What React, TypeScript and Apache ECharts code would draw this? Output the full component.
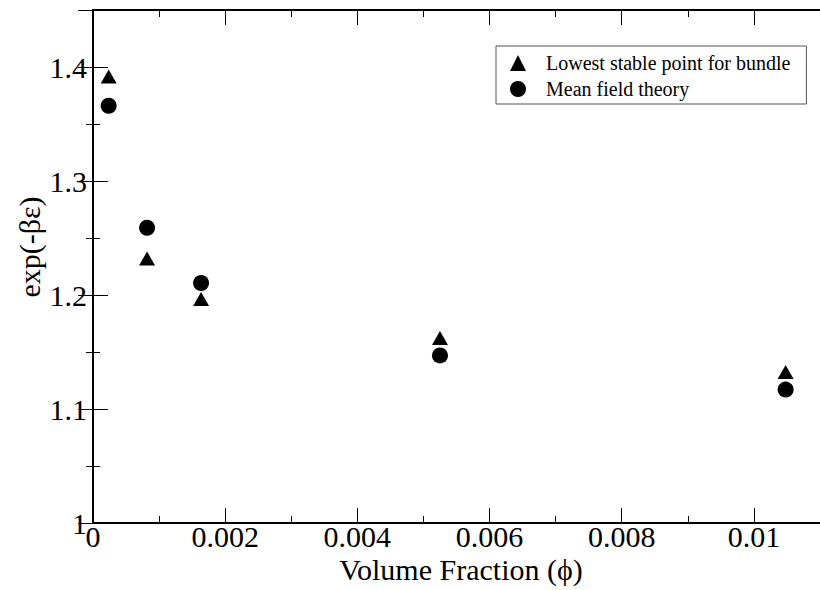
import React, { useEffect, useRef } from "react";
import * as echarts from "echarts";

// ---- data ----
const phi = [0.000237, 0.000818, 0.001635, 0.00525, 0.01048];
const lowestStable = [1.3917, 1.232, 1.1965, 1.1623, 1.1325];
const meanField = [1.366, 1.259, 1.2105, 1.147, 1.117];
const seriesNames = ["Lowest stable point for bundle", "Mean field theory"];
const xTicks = [0, 0.002, 0.004, 0.006, 0.008, 0.01];
const yTicks = [1, 1.1, 1.2, 1.3, 1.4];
const xTitle = "Volume Fraction (\u03d5)";
const yTitle = "exp(-\u03b2\u03b5)";

const FONT = "'Liberation Serif', 'Times New Roman', Times, serif";

const fmt = (v: number, ticks: number[]) => {
  const hit = ticks.find((t) => Math.abs(t - v) < 1e-9);
  return hit === undefined ? "" : String(parseFloat(hit.toFixed(6)));
};

export default function App() {
  const ref = useRef<HTMLDivElement>(null);

  useEffect(() => {
    if (!ref.current) return;
    const chart = echarts.init(ref.current, undefined, { renderer: "svg" });

    const frame = { show: true, lineStyle: { color: "#000", width: 2 } };
    const noLine = { show: false };
    const tick = (len: number) => ({
      show: true,
      inside: true,
      length: len,
      lineStyle: { color: "#000", width: 1 },
    });

    const xBase = { type: "value" as const, min: 0, max: 0.011, gridIndex: 0, splitLine: { show: false } };
    const yBase = { type: "value" as const, min: 1, max: 1.45, gridIndex: 0, splitLine: { show: false } };

    chart.setOption({
      animation: false,
      backgroundColor: "#fff",
      textStyle: { fontFamily: FONT, color: "#000" },
      grid: { left: 93, top: 10, width: 734, height: 513, containLabel: false },
      xAxis: [
        {
          ...xBase,
          position: "bottom",
          interval: 0.002,
          axisLine: frame,
          axisTick: tick(15),
          axisLabel: {
            show: true,
            fontSize: 30,
            lineHeight: 26,
            fontFamily: FONT,
            color: "#000",
            margin: 0,
            showMaxLabel: false,
            formatter: (v: number) => fmt(v, xTicks),
          },
        },
        { ...xBase, position: "bottom", interval: 0.001, axisLine: noLine, axisTick: tick(7), axisLabel: { show: false } },
        { ...xBase, position: "top", interval: 0.002, axisLine: frame, axisTick: tick(15), axisLabel: { show: false } },
        { ...xBase, position: "top", interval: 0.001, axisLine: noLine, axisTick: tick(7), axisLabel: { show: false } },
      ],
      yAxis: [
        {
          ...yBase,
          position: "left",
          interval: 0.1,
          axisLine: frame,
          axisTick: tick(15),
          axisLabel: {
            show: true,
            fontSize: 30,
            lineHeight: 26,
            fontFamily: FONT,
            color: "#000",
            margin: 6,
            showMaxLabel: false,
            formatter: (v: number) => fmt(v, yTicks),
          },
        },
        { ...yBase, position: "left", interval: 0.05, axisLine: noLine, axisTick: tick(7), axisLabel: { show: false } },
        { ...yBase, position: "right", interval: 0.1, axisLine: frame, axisTick: tick(15), axisLabel: { show: false } },
        { ...yBase, position: "right", interval: 0.05, axisLine: noLine, axisTick: tick(7), axisLabel: { show: false } },
      ],
      legend: {
        show: true,
        orient: "vertical",
        left: 496,
        top: 46,
        padding: [7, 16, 5, 14],
        itemWidth: 16,
        itemHeight: 16,
        itemGap: 6,
        borderColor: "#555",
        borderWidth: 1,
        backgroundColor: "#fff",
        itemStyle: { opacity: 1 },
        textStyle: {
          fontSize: 20,
          lineHeight: 20,
          fontFamily: FONT,
          color: "#000",
          padding: [0, 0, 0, 15],
        },
        data: seriesNames,
      },
      series: [
        {
          name: seriesNames[0],
          type: "scatter",
          xAxisIndex: 0,
          yAxisIndex: 0,
          symbol: "triangle",
          symbolSize: [16, 14],
          itemStyle: { color: "#000", opacity: 1 },
          data: phi.map((x, i) => [x, lowestStable[i]]),
        },
        {
          name: seriesNames[1],
          type: "scatter",
          xAxisIndex: 0,
          yAxisIndex: 0,
          symbol: "circle",
          symbolSize: 16,
          itemStyle: { color: "#000", opacity: 1 },
          data: phi.map((x, i) => [x, meanField[i]]),
        },
      ],
      graphic: [
        {
          type: "text",
          x: 461,
          y: 569,
          style: {
            text: xTitle,
            fontSize: 30,
            lineHeight: 30,
            fontFamily: FONT,
            fill: "#000",
            align: "center",
            verticalAlign: "middle",
          },
        },
        {
          type: "text",
          x: 29,
          y: 247,
          rotation: Math.PI / 2,
          style: {
            text: yTitle,
            fontSize: 30,
            fontFamily: FONT,
            fill: "#000",
            align: "center",
            verticalAlign: "middle",
          },
        },
      ],
    });

    return () => chart.dispose();
  }, []);

  return (
    <div
      ref={ref}
      style={{ position: "fixed", left: 0, top: 0, width: 820, height: 590, background: "#fff" }}
    />
  );
}
